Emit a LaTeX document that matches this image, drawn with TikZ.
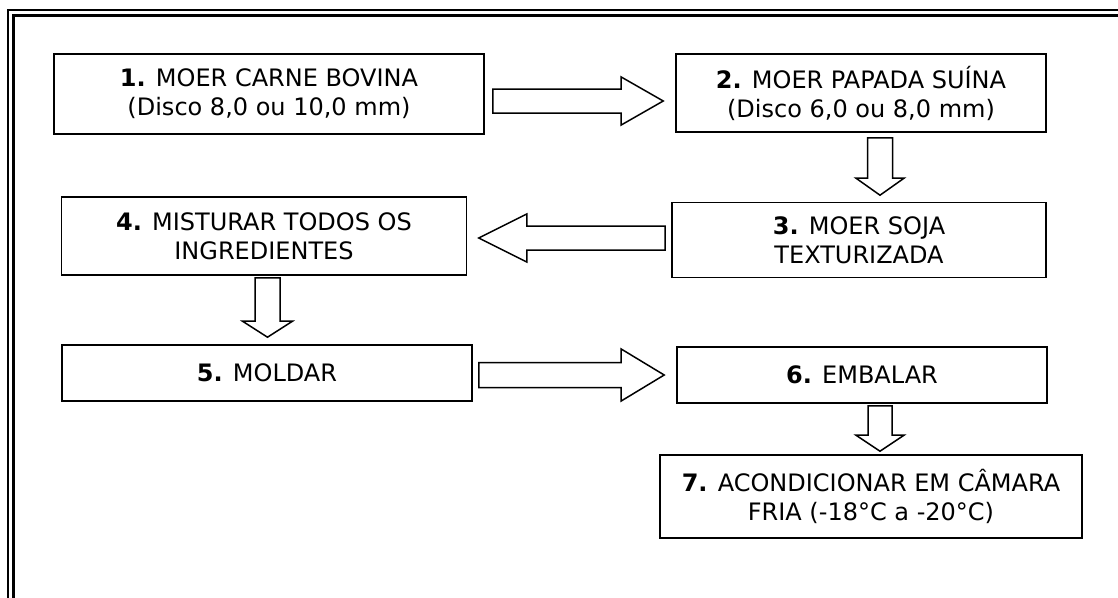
\documentclass[tikz,border=0pt]{standalone}
\usepackage{fontspec}
\setmainfont{DejaVu Sans}
\usetikzlibrary{calc}
\begin{document}
\begin{tikzpicture}[x=1pt,y=-1pt,
  stepbox/.style={draw, line width=1.6pt, inner sep=0pt, align=center,
    font=\fontsize{24}{29}\selectfont},
  blockarr/.style={draw, line width=1.5pt, fill=white, line join=miter},
  frameouter/.style={draw, line width=1.8pt},
  frameinner/.style={draw, line width=2.2pt}]
\useasboundingbox (0,0) rectangle (1118,597);
\fill[white] (0,0) rectangle (1118,597);
\path[frameouter] (8.2,10.2) rectangle (1140,620);
\path[frameinner] (13.5,15.5) rectangle (1134,614);

\node[stepbox, minimum width=430, minimum height=80] (b1) at (269,94)
  {\textbf{1.} MOER CARNE BOVINA\\(Disco 8,0 ou 10,0 mm)};
\node[stepbox, minimum width=370, minimum height=78] (b2) at (861,93)
  {\textbf{2.} MOER PAPADA SUÍNA\\(Disco 6,0 ou 8,0 mm)};
\node[stepbox, minimum width=374, minimum height=75] (b3) at (859,240)
  {\textbf{3.} MOER SOJA\\TEXTURIZADA};
\node[stepbox, minimum width=405, minimum height=78] (b4) at (264,236)
  {\textbf{4.} MISTURAR TODOS OS\\INGREDIENTES};
\node[stepbox, minimum width=410, minimum height=56] (b5) at (267,373)
  {\textbf{5.} MOLDAR};
\node[stepbox, minimum width=370, minimum height=56] (b6) at (862,375)
  {\textbf{6.} EMBALAR};
\node[stepbox, minimum width=422, minimum height=83] (b7) at (871,496.5)
  {\textbf{7.} ACONDICIONAR EM CÂMARA\\FRIA (-18°C a -20°C)};

% 1 -> 2
\coordinate (t12) at ($(b1.east)+(8,7)$);
\coordinate (h12) at ($(b2.west)+(-12,8)$);
\draw[blockarr] ($(t12)+(0,-12)$) -- ($(h12)+(-42,-12)$) -- ($(h12)+(-42,-24)$)
  -- (h12) -- ($(h12)+(-42,24)$) -- ($(h12)+(-42,12)$) -- ($(t12)+(0,12)$) -- cycle;
% 2 -> 3
\coordinate (t23) at ($(b2.south)+(19,5)$);
\coordinate (h23) at ($(b3.north)+(21,-6.5)$);
\draw[blockarr] ($(t23)+(-12.5,0)$) -- ($(h23)+(-12.5,-17)$) -- ($(h23)+(-24,-17)$)
  -- (h23) -- ($(h23)+(24,-17)$) -- ($(h23)+(12.5,-17)$) -- ($(t23)+(12.5,0)$) -- cycle;
% 3 -> 4
\coordinate (t34) at ($(b3.west)+(-6,-2)$);
\coordinate (h34) at ($(b4.east)+(11.5,2)$);
\draw[blockarr] ($(t34)+(0,-12)$) -- ($(h34)+(48,-12)$) -- ($(h34)+(48,-24)$)
  -- (h34) -- ($(h34)+(48,24)$) -- ($(h34)+(48,12)$) -- ($(t34)+(0,12)$) -- cycle;
% 4 -> 5
\coordinate (t45) at ($(b4.south)+(3.5,2)$);
\coordinate (h45) at ($(b5.north)+(0.5,-7)$);
\draw[blockarr] ($(t45)+(-12.5,0)$) -- ($(h45)+(-12.5,-16)$) -- ($(h45)+(-25,-16)$)
  -- (h45) -- ($(h45)+(25,-16)$) -- ($(h45)+(12.5,-16)$) -- ($(t45)+(12.5,0)$) -- cycle;
% 5 -> 6
\coordinate (t56) at ($(b5.east)+(6,2)$);
\coordinate (h56) at ($(b6.west)+(-12,0)$);
\draw[blockarr] ($(t56)+(0,-12.5)$) -- ($(h56)+(-43,-12.5)$) -- ($(h56)+(-43,-26)$)
  -- (h56) -- ($(h56)+(-43,26)$) -- ($(h56)+(-43,12.5)$) -- ($(t56)+(0,12.5)$) -- cycle;
% 6 -> 7
\coordinate (t67) at ($(b6.south)+(18,2)$);
\coordinate (h67) at ($(b7.north)+(9,-3)$);
\draw[blockarr] ($(t67)+(-12,0)$) -- ($(h67)+(-12,-16)$) -- ($(h67)+(-24,-16)$)
  -- (h67) -- ($(h67)+(24,-16)$) -- ($(h67)+(12,-16)$) -- ($(t67)+(12,0)$) -- cycle;
\end{tikzpicture}
\end{document}
